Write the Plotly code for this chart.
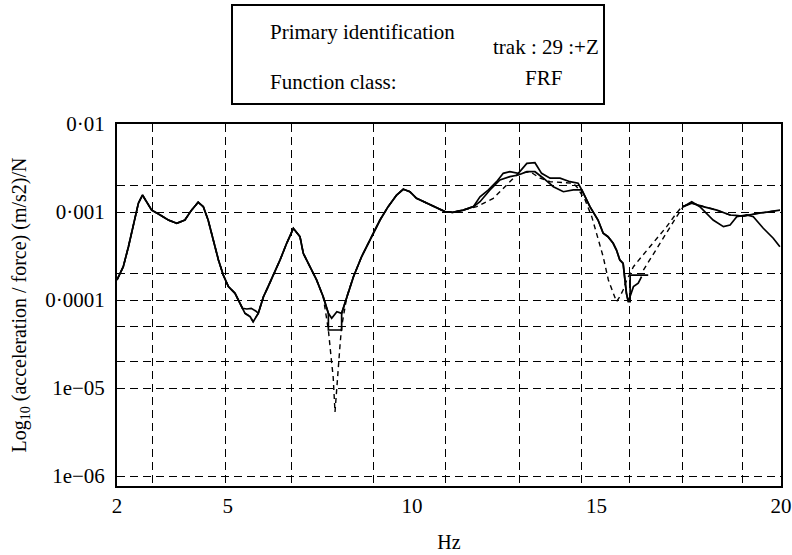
import plotly.graph_objects as go

# ---------------- data (Hz, acceleration/force) ----------------
freq_a = [2.00, 2.17, 2.31, 2.44, 2.58, 2.69, 2.81, 2.94, 3.17, 3.39, 3.62, 3.84, 4.02, 4.20, 4.34,
          4.47, 4.61, 4.75, 4.88, 5.02, 5.20, 5.33, 5.47, 5.61, 5.69, 5.83, 5.97, 6.10, 6.24, 6.42,
          6.60, 6.78, 6.96, 7.05, 7.23, 7.41, 7.59, 7.73, 7.82, 7.96, 8.09, 8.23, 8.41, 8.63, 8.90,
          9.13, 9.35, 9.58, 9.76, 9.94, 10.12, 10.40, 10.67, 10.89, 11.10, 11.39, 11.66, 11.84, 12.07,
          12.29, 12.47, 12.65, 12.88, 13.11, 13.33, 13.51, 13.74, 14.01, 14.28, 14.50, 14.60, 14.82,
          15.04, 15.18, 15.31, 15.45, 15.54, 15.63, 15.72, 15.77, 15.81, 15.86, 16.00, 16.13, 16.22,
          None, 17.35, 17.58, 17.89, 18.26, 18.62, 18.98, 19.34, 19.70, 19.97]
mag_a = [1.69e-4, 2.39e-4, 4.03e-4, 6.81e-4, 1.26e-3, 1.56e-3, 1.31e-3, 1.05e-3, 9.25e-4, 8.11e-4,
         7.44e-4, 8.11e-4, 1.05e-3, 1.29e-3, 1.15e-3, 8.11e-4, 4.81e-4, 2.85e-4, 1.92e-4, 1.42e-4,
         1.19e-4, 9.17e-5, 7.06e-5, 6.46e-5, 5.66e-5, 7.06e-5, 1.09e-4, 1.42e-4, 1.92e-4, 2.85e-4,
         4.41e-4, 6.53e-4, 5.24e-4, 3.39e-4, 2.39e-4, 1.69e-4, 1.09e-4, 7.06e-5, 6.19e-5, 7.36e-5,
         7.06e-5, 1.09e-4, 1.84e-4, 3.10e-4, 5.24e-4, 8.11e-4, 1.15e-3, 1.56e-3, 1.81e-3, 1.70e-3,
         1.43e-3, 1.26e-3, 1.10e-3, 1.01e-3, 9.9e-4, 1.05e-3, 1.15e-3, 1.49e-3, 1.78e-3, 2.21e-3,
         2.75e-3, 2.87e-3, 2.75e-3, 3.57e-3, 3.63e-3, 2.75e-3, 2.42e-3, 2.42e-3, 2.21e-3, 2.12e-3,
         1.78e-3, 1.15e-3, 8.11e-4, 5.73e-4, 5.24e-4, 4.41e-4, 3.70e-4, 2.85e-4, 2.61e-4, 1.69e-4,
         1.19e-4, 9.57e-5, 1.42e-4, 1.55e-4, 1.84e-4,
         None, 1.15e-3, 1.26e-3, 1.15e-3, 1.05e-3, 9.25e-4, 9.0e-4, 9.6e-4, 1.01e-3, 1.05e-3]

freq_b = [2.00, 2.17, 2.31, 2.44, 2.58, 2.69, 2.81, 2.94, 3.17, 3.39, 3.62, 3.84, 4.02, 4.20, 4.34,
          4.47, 4.61, 4.75, 4.88, 5.02, 5.20, 5.33, 5.40, 5.52, 5.64, 5.76, 5.83, 5.97, 6.10, 6.24,
          6.42, 6.60, 6.78, 6.96, 7.05, 7.23, 7.41, 7.59, 7.73, 7.73, 8.09, 8.09, 8.23, 8.41, 8.63,
          8.90, 9.13, 9.35, 9.58, 9.76, 9.94, 10.12, 10.40, 10.67, 10.89, 11.10, 11.39, 11.66, 11.84,
          12.11, 12.38, 12.65, 12.88, 13.11, 13.33, 13.56, 13.83, 14.10, 14.37, 14.60, 14.82, 15.04,
          15.18, 15.31, 15.45, 15.54, 15.63, 15.72, 15.77, 15.81, 15.86, 15.91, 15.91, 16.40,
          None, 17.35, 17.58, 17.80, 18.16, 18.44, 18.62, 18.80, 19.07, 19.25, 19.52, 19.79, 19.97]
mag_b = [1.69e-4, 2.39e-4, 4.03e-4, 6.81e-4, 1.26e-3, 1.56e-3, 1.31e-3, 1.05e-3, 9.25e-4, 8.11e-4,
         7.44e-4, 8.11e-4, 1.05e-3, 1.29e-3, 1.15e-3, 8.11e-4, 4.81e-4, 2.85e-4, 1.92e-4, 1.42e-4,
         1.19e-4, 9.17e-5, 8.05e-5, 7.9e-5, 8.05e-5, 7.5e-5, 7.06e-5, 1.09e-4, 1.42e-4, 1.92e-4,
         2.85e-4, 4.41e-4, 6.53e-4, 5.24e-4, 3.39e-4, 2.39e-4, 1.69e-4, 1.09e-4, 7.06e-5, 4.56e-5,
         4.56e-5, 7.06e-5, 1.09e-4, 1.84e-4, 3.10e-4, 5.24e-4, 8.11e-4, 1.15e-3, 1.56e-3, 1.81e-3,
         1.70e-3, 1.43e-3, 1.26e-3, 1.10e-3, 1.01e-3, 9.9e-4, 1.05e-3, 1.15e-3, 1.31e-3,
         1.78e-3, 2.31e-3, 2.52e-3, 2.63e-3, 2.87e-3, 2.87e-3, 2.42e-3, 1.94e-3, 1.70e-3, 1.78e-3,
         1.78e-3, 1.15e-3, 8.11e-4, 5.73e-4, 5.24e-4, 4.41e-4, 3.70e-4, 2.85e-4, 2.61e-4, 1.69e-4,
         1.19e-4, 9.57e-5, 9.57e-5, 1.92e-4, 1.92e-4,
         None, 1.15e-3, 1.31e-3, 1.15e-3, 8.11e-4, 6.81e-4, 7.12e-4, 8.85e-4, 9.25e-4, 8.85e-4,
         6.53e-4, 5.03e-4, 4.03e-4]

freq_c = [2.00, 2.17, 2.31, 2.44, 2.58, 2.69, 2.81, 2.94, 3.17, 3.39, 3.62, 3.84, 4.02, 4.20, 4.34,
          4.47, 4.61, 4.75, 4.88, 5.02, 5.20, 5.33, 5.47, 5.61, 5.69, 5.83, 5.97, 6.10, 6.24, 6.42,
          6.60, 6.78, 6.96, 7.05, 7.23, 7.41, 7.59, 7.73, 7.82, 7.86, 7.91, 8.00, 8.05, 8.09, 8.23,
          8.41, 8.63, 8.90, 9.13, 9.35, 9.58, 9.76, 9.94, 10.12, 10.40, 10.67, 10.89, 11.10, 11.39,
          11.75, 12.20, 12.56, 12.88, 13.20, 13.47, 13.74, 14.37, 14.46, 14.69, 14.87, 15.05, 15.18,
          15.32, 15.45, 15.54, 15.63, 15.72, 15.82, 16.00, 16.22, 16.45, 16.67, 16.90, 17.13, 17.31,
          17.58, 17.89, 18.26, 18.62, 18.98, 19.34, 19.70, 19.97]
mag_c = [1.69e-4, 2.39e-4, 4.03e-4, 6.81e-4, 1.26e-3, 1.56e-3, 1.31e-3, 1.05e-3, 9.25e-4, 8.11e-4,
         7.44e-4, 8.11e-4, 1.05e-3, 1.29e-3, 1.15e-3, 8.11e-4, 4.81e-4, 2.85e-4, 1.92e-4, 1.42e-4,
         1.19e-4, 9.17e-5, 7.06e-5, 6.46e-5, 5.66e-5, 7.06e-5, 1.09e-4, 1.42e-4, 1.92e-4, 2.85e-4,
         4.41e-4, 6.53e-4, 5.24e-4, 3.39e-4, 2.39e-4, 1.69e-4, 1.09e-4, 4.56e-5, 1.92e-5, 1.34e-5,
         5.34e-6, 1.92e-5, 3.25e-5, 4.97e-5, 1.09e-4,
         1.84e-4, 3.10e-4, 5.24e-4, 8.11e-4, 1.15e-3, 1.56e-3, 1.81e-3, 1.70e-3, 1.43e-3, 1.26e-3,
         1.10e-3, 1.01e-3, 9.9e-4, 1.05e-3,
         1.15e-3, 1.43e-3, 2.03e-3, 2.75e-3, 2.87e-3, 2.42e-3, 2.21e-3, 2.12e-3, 1.94e-3, 1.37e-3,
         8.85e-4, 4.81e-4, 3.10e-4, 1.69e-4, 1.19e-4, 9.57e-5, 1.09e-4, 1.30e-4, 1.69e-4, 2.39e-4,
         3.10e-4, 4.03e-4, 5.24e-4, 6.81e-4, 9.25e-4, 1.15e-3,
         1.26e-3, 1.15e-3, 1.05e-3, 9.25e-4, 9.0e-4, 9.6e-4, 1.01e-3, 1.05e-3]

freq_d = [16.27, 16.49, 16.72, 16.99, 17.17, 17.35]
mag_d = [2.19e-4, 3.10e-4, 4.41e-4, 6.81e-4, 8.85e-4, 1.15e-3]

x_tick_vals = [2, 5, 10, 15, 20]
x_tick_text = ["2", "5", "10", "15", "20"]
x_grid_vals = [2.95, 4.95, 6.74, 8.94, 10.9, 12.9, 14.6, 15.9, 17.32, 18.95]
y_tick_vals = [1e-2, 1e-3, 1e-4, 1e-5, 1e-6]
y_tick_text = ["0·01", "0·001", "0·0001", "1e−05", "1e−06"]
y_grid_vals = [2e-3, 1e-3, 2e-4, 1e-4, 5e-5, 2e-5, 1e-5, 1e-6]

# ---------------- figure ----------------
W, H = 792, 555
L, R, T, B = 117, 11, 124, 69
pw, ph = W - L - R, H - T - B

def px(x):
    return (x - L) / pw

def py(y):
    return (H - B - y) / ph

FONT = "Liberation Serif, 'Times New Roman', serif"
TICK_SIZE = 21
BOX_SIZE = 21
fig = go.Figure()
line_solid = dict(color="black", width=1.7)
line_dash = dict(color="black", width=1.4, dash="5px,4px")
fig.add_trace(go.Scatter(x=freq_c, y=mag_c, mode="lines", line=line_dash, connectgaps=False))
fig.add_trace(go.Scatter(x=freq_d, y=mag_d, mode="lines", line=line_dash))
fig.add_trace(go.Scatter(x=freq_b, y=mag_b, mode="lines", line=line_solid, connectgaps=False))
fig.add_trace(go.Scatter(x=freq_a, y=mag_a, mode="lines", line=line_solid, connectgaps=False))

grid_common = dict(showgrid=True, gridcolor="black", gridwidth=1.4, griddash="8px,5px",
                   ticks="")
fig.update_layout(
    width=W, height=H,
    margin=dict(l=L, r=R, t=T, b=B, pad=0, autoexpand=False),
    paper_bgcolor="white", plot_bgcolor="white",
    showlegend=False,
    font=dict(family=FONT, color="black", size=TICK_SIZE),
    xaxis=dict(
        range=[2, 20], tickmode="array", tickvals=x_tick_vals, ticktext=x_tick_text,
        showgrid=False, zeroline=False, ticks="", ticklen=0, ticklabelstandoff=0, automargin=False,
        showline=True, mirror=True, linecolor="black", linewidth=2,
        minor=dict(tickmode="array", tickvals=x_grid_vals, **grid_common),
        title=dict(text="Hz", font=dict(family=FONT, size=20), standoff=18),
        tickfont=dict(family=FONT, size=TICK_SIZE),
    ),
    yaxis=dict(
        type="log", range=[-2 - ph / 88.0, -2], tickmode="array",
        tickvals=y_tick_vals, ticktext=y_tick_text,
        showgrid=False, zeroline=False, ticks="", ticklen=0, ticklabelstandoff=6, automargin=False,
        showline=True, mirror=True, linecolor="black", linewidth=2,
        minor=dict(tickmode="array", tickvals=y_grid_vals, **grid_common),
        title=dict(text="Log<sub>10</sub> (acceleration / force) (m/s2)/N",
                   font=dict(family=FONT, size=20), standoff=13),
        tickfont=dict(family=FONT, size=TICK_SIZE),
    ),
    shapes=[dict(type="rect", xref="paper", yref="paper",
                 x0=px(232), x1=px(604), y0=py(104), y1=py(5),
                 line=dict(color="black", width=2), fillcolor="rgba(0,0,0,0)")],
    annotations=[
        dict(text="Primary identification", xref="paper", yref="paper", x=px(268), y=py(32),
             xanchor="left", yanchor="middle", showarrow=False, font=dict(family=FONT, size=BOX_SIZE)),
        dict(text="trak : 29 :+Z", xref="paper", yref="paper", x=px(546), y=py(47),
             xanchor="center", yanchor="middle", showarrow=False, font=dict(family=FONT, size=BOX_SIZE)),
        dict(text="Function class:", xref="paper", yref="paper", x=px(268), y=py(82),
             xanchor="left", yanchor="middle", showarrow=False, font=dict(family=FONT, size=BOX_SIZE)),
        dict(text="FRF", xref="paper", yref="paper", x=px(543), y=py(78),
             xanchor="center", yanchor="middle", showarrow=False, font=dict(family=FONT, size=BOX_SIZE)),
    ],
)

fig.write_html("out.html")
